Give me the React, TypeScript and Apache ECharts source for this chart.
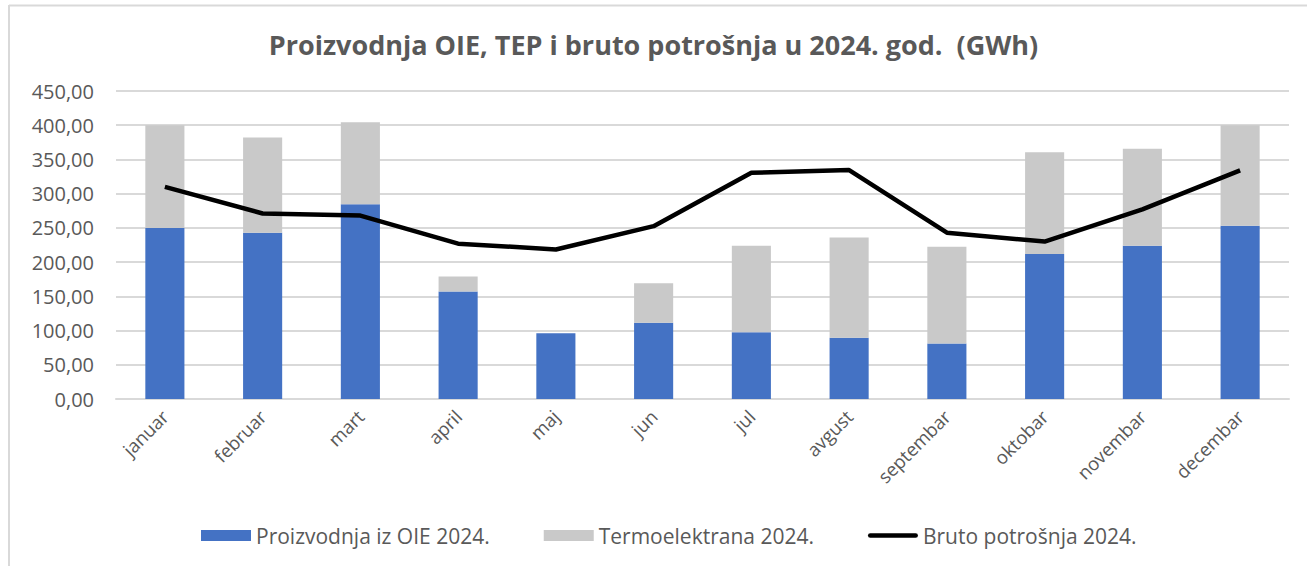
import React, { useEffect, useRef } from "react";
import * as echarts from "echarts";

const months = ["januar", "februar", "mart", "april", "maj", "jun", "jul", "avgust", "septembar", "oktobar", "novembar", "decembar"];
const oie = [250, 243, 284.5, 157, 96, 111.5, 97.5, 89.5, 81, 212, 224, 253];
const tep = [150, 139, 120, 22, 0, 57.5, 126.5, 146.5, 141.5, 148.5, 141.5, 147];
const bruto = [310, 271, 268, 227, 218.5, 252.5, 330.5, 334.5, 243, 230, 277, 334];
const seriesNames = ["Proizvodnja iz OIE 2024.", "Termoelektrana 2024.", "Bruto potrošnja 2024."];
const titleText = "Proizvodnja OIE, TEP i bruto potrošnja u 2024. god.  (GWh)";

const FONT = "'Open Sans', Lato, sans-serif";
const LINE_ICON = "path://M2.5,0 H50.5 A2.5,2.5 0 0 1 50.5,5 H2.5 A2.5,2.5 0 0 1 2.5,0 Z";

export default function App() {
  const ref = useRef<HTMLDivElement>(null);
  useEffect(() => {
    if (!ref.current) return;
    const chart = echarts.init(ref.current, null, { renderer: "svg" });
    chart.setOption({
      animation: false,
      backgroundColor: "#ffffff",
      textStyle: { fontFamily: FONT },
      title: {
        text: titleText,
        left: "center",
        top: 26,
        textStyle: { fontFamily: FONT, fontSize: 27, fontWeight: "bold", color: "#595959" },
      },
      graphic: [
        { type: "line", shape: { x1: 9, y1: 5.5, x2: 1307, y2: 5.5 }, style: { stroke: "#d9d9d9", lineWidth: 2 } },
        { type: "line", shape: { x1: 9, y1: 5, x2: 9, y2: 566 }, style: { stroke: "#d9d9d9", lineWidth: 2 } },
      ],
      legend: {
        bottom: 15,
        left: 196,
        itemWidth: 50,
        itemHeight: 11,
        itemGap: 54,
        textStyle: { fontFamily: FONT, fontSize: 21, color: "#595959" },
        data: [
          { name: seriesNames[0], icon: "rect" },
          { name: seriesNames[1], icon: "rect" },
          { name: seriesNames[2], icon: LINE_ICON },
        ],
      },
      grid: { left: 116, right: 18, top: 91, bottom: 167, containLabel: false },
      xAxis: {
        type: "category",
        data: months,
        axisLine: { show: true, lineStyle: { color: "#d9d9d9", width: 2 } },
        axisTick: { show: false },
        axisLabel: { rotate: 45, fontFamily: FONT, fontSize: 18.5, color: "#595959", margin: 14, interval: 0 },
      },
      yAxis: {
        type: "value",
        min: 0,
        max: 450,
        interval: 50,
        axisLine: { show: false },
        axisTick: { show: false },
        splitLine: { lineStyle: { color: "#d9d9d9", width: 2 } },
        axisLabel: {
          fontFamily: FONT,
          fontSize: 20,
          color: "#595959",
          margin: 22,
          formatter: (v: number) => v.toFixed(2).replace(".", ","),
        },
      },
      series: [
        {
          name: seriesNames[0],
          type: "bar",
          stack: "p",
          data: oie,
          barWidth: "40%",
          itemStyle: { color: "#4472C4" },
        },
        {
          name: seriesNames[1],
          type: "bar",
          stack: "p",
          data: tep,
          barWidth: "40%",
          itemStyle: { color: "#C9C9C9" },
        },
        {
          name: seriesNames[2],
          type: "line",
          data: bruto,
          showSymbol: false,
          symbol: "none",
          lineStyle: { color: "#000000", width: 4.5 },
          itemStyle: { color: "#000000" },
          z: 5,
        },
      ],
    });
    return () => chart.dispose();
  }, []);
  return <div ref={ref} style={{ width: 1307, height: 566, position: "absolute", left: 0, top: 0 }} />;
}
